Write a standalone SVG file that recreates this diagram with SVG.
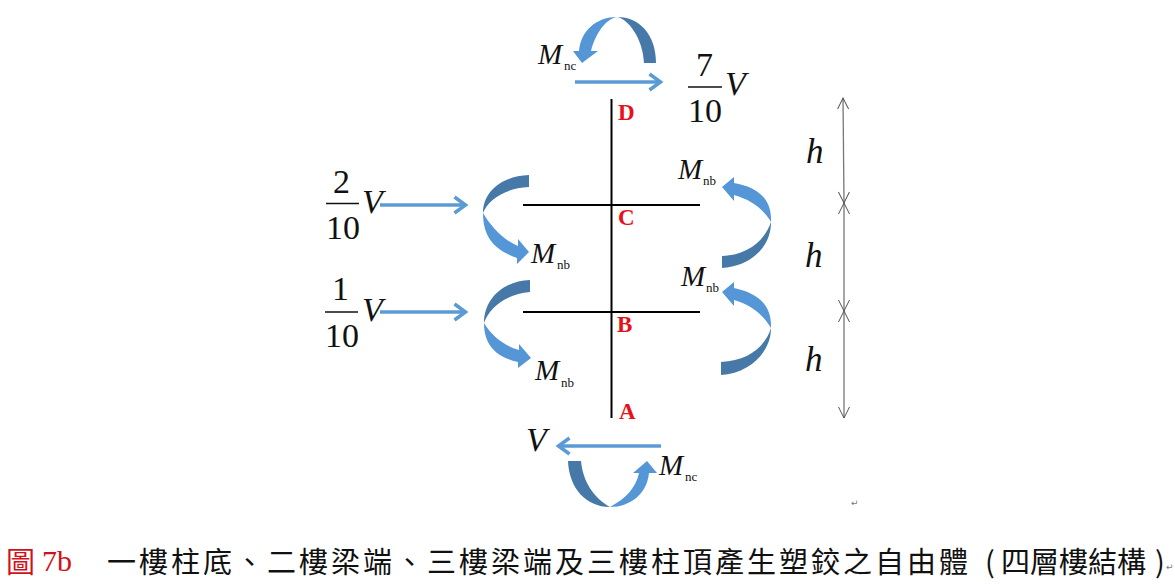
<svg xmlns="http://www.w3.org/2000/svg" width="1175" height="587" viewBox="0 0 1175 587">
<style>
text{font-family:"Liberation Serif",serif;fill:#111}
.m{font-style:italic;font-size:29px}
.s{font-size:13px}
.f{font-size:34px}
.v{font-style:italic;font-size:34px}
.h{font-style:italic;font-size:35px}
.n{font-weight:bold;font-size:23px;fill:#e8101a}
.cap{font-family:"Noto Sans CJK TC","Liberation Serif",sans-serif;font-size:29px;font-weight:400;letter-spacing:3px;fill:#111}
.red{font-size:30px;fill:#d0101a}
.ret{font-family:"DejaVu Sans",sans-serif;font-size:9px;fill:#777}
.beam{stroke:#000;stroke-width:2;fill:none}
.force{stroke:#5b9bd5;stroke-width:3.5;fill:none;marker-end:url(#open)}
.dim{stroke:#777;stroke-width:1.3;fill:none;marker-start:url(#tick);marker-end:url(#tick)}
.bar{stroke:#111;stroke-width:1.3}
.d{fill:#4679a8}
.l{fill:#5596d6}
</style>
<defs>
<marker id="open" markerUnits="userSpaceOnUse" markerWidth="20" markerHeight="20" refX="14" refY="10" orient="auto"><path d="M3 2L14 10L3 18" fill="none" stroke="#5b9bd5" stroke-width="3.5"/></marker>
<marker id="tick" markerUnits="userSpaceOnUse" markerWidth="16" markerHeight="16" refX="14" refY="8" orient="auto-start-reverse"><path d="M3 2.500L14 8L3 13.500" fill="none" stroke="#555" stroke-width="1"/></marker>
</defs>
<g id="connectors">
<path class="beam" d="M611.500 99V418M523 205H700M523 312H700"/>
<path class="force" d="M575 82H660.500"/>
<path class="force" d="M380 205H465.500"/>
<path class="force" d="M380 312H465.500"/>
<path class="force" d="M661 446H558.500"/>
<path class="dim" d="M843 98L844 203"/>
<path class="dim" d="M844 203L844 311"/>
<path class="dim" d="M844 311L844 418"/>
</g>
<g id="moment-top">
<path class="d" d="M656 63C656 35 640 17 617 17C628 19 643 38 644 63Z"/>
<path class="l" d="M617 17C597 17 581 30 579 51H573L582 63L598 51H591C595 35 605 19 617 17Z"/>
<text class="m" x="538" y="64">M</text><text class="s" x="564" y="70">nc</text>
</g>
<g id="moment-left-c">
<path class="d" d="M529 175C501 176 483 192 483 213C488 200 505 188 529 187Z"/>
<path class="l" d="M483 213C483 238 495 250 517 258V264L529 252L518 239V246C503 240 490 225 483 213Z"/>
<text class="m" x="531" y="263">M</text><text class="s" x="557" y="269">nb</text>
</g>
<g id="moment-left-b">
<path class="d" d="M530 280C502 281 484 300 484 323C489 308 506 294 530 292Z"/>
<path class="l" d="M484 323C484 345 496 357 518 362V368L531 358L519 344V350C504 346 491 335 484 323Z"/>
<text class="m" x="535" y="380">M</text><text class="s" x="561" y="387">nb</text>
</g>
<g id="moment-right-c">
<path class="d" d="M722 268C750 266 771 248 771 222C765 240 748 255 722 256Z"/>
<path class="l" d="M771 222C772 198 757 187 734 183V177L722 187L734 201V195C752 200 764 210 771 222Z"/>
<text class="m" x="678" y="179">M</text><text class="s" x="703" y="185">nb</text>
</g>
<g id="moment-right-b">
<path class="d" d="M721 375C750 373 771 352 771 328C765 347 748 361 721 362Z"/>
<path class="l" d="M771 328C772 304 757 293 734 288V282L722 292L734 306V300C752 305 764 316 771 328Z"/>
<text class="m" x="681" y="286">M</text><text class="s" x="706" y="292">nb</text>
</g>
<g id="moment-bottom">
<path class="d" d="M568 461C569 488 586 507 610 507C594 498 583 482 581 461Z"/>
<path class="l" d="M610 507C630 507 647 494 649 473H657L647 461L633 473H639C636 488 625 499 610 507Z"/>
<text class="m" x="659" y="475">M</text><text class="s" x="685" y="481">nc</text>
</g>
<g id="node-d"><text class="n" x="618" y="120">D</text></g>
<g id="node-c"><text class="n" x="618" y="225">C</text></g>
<g id="node-b"><text class="n" x="617" y="332">B</text></g>
<g id="node-a"><text class="n" x="619" y="419">A</text></g>
<g id="load-7">
<text class="f" x="696" y="76">7</text><line class="bar" x1="688" x2="722" y1="87" y2="87"/><text class="f" x="688" y="122">10</text><text class="v" x="725" y="95">V</text>
</g>
<g id="load-2">
<text class="f" x="333" y="193">2</text><line class="bar" x1="326" x2="359" y1="203.500" y2="203.500"/><text class="f" x="326" y="239">10</text><text class="v" x="362" y="213">V</text>
</g>
<g id="load-1">
<text class="f" x="332" y="300">1</text><line class="bar" x1="325" x2="358" y1="312" y2="312"/><text class="f" x="325" y="347">10</text><text class="v" x="362" y="321">V</text>
</g>
<g id="load-v"><text class="v" x="526" y="451">V</text></g>
<g id="heights">
<text class="h" x="806" y="163">h</text>
<text class="h" x="805" y="267">h</text>
<text class="h" x="805" y="371">h</text>
</g>
<g id="caption">
<text class="cap" x="6" y="573" style="fill:#d0101a;letter-spacing:0">圖</text>
<text class="red" x="42" y="571">7b</text>
<text class="cap" x="107" y="573">一樓柱底、二樓梁端、三樓梁端及三樓柱頂產生塑鉸之自由體</text>
<text class="cap" x="985" y="573" style="letter-spacing:0">(</text>
<text class="cap" x="1001" y="573" style="letter-spacing:0">四層樓結構</text>
<text class="cap" x="1155" y="573" style="letter-spacing:0">)</text>
<text class="ret" x="1166" y="570">↵</text>
<text class="ret" x="851" y="506">↵</text>
</g>
</svg>
